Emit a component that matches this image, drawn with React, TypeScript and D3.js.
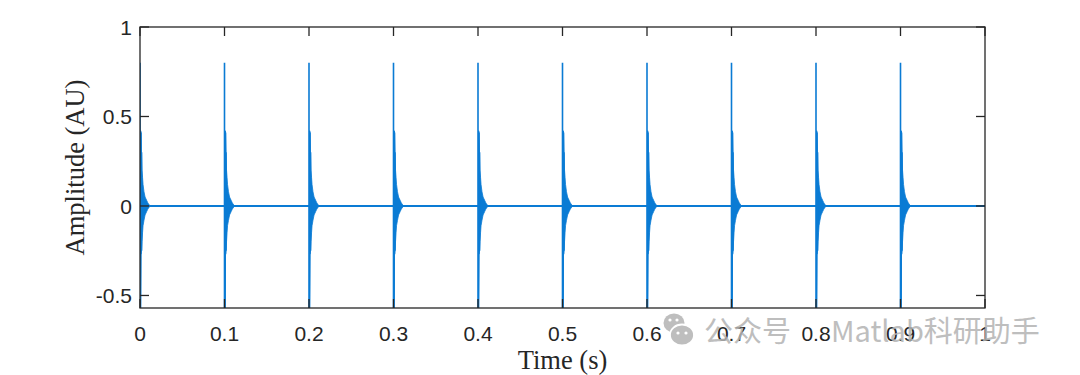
import { useEffect, useRef } from 'react';
import * as d3 from 'd3';

// pulse train: one decaying burst every 0.1 s
const pulseTimes = [0, 0.1, 0.2, 0.3, 0.4, 0.5, 0.6, 0.7, 0.8, 0.9];
// burst envelope (offset after each pulse, in ms)
const envOffsetsMs = [0, 0.6, 1.2, 1.8, 2.4, 3.0, 3.6, 4.7, 6.0, 7.0, 8.0, 9.0, 10.0, 11.0, 12.0];
const envUpper = [0.8, 0.42, 0.41, 0.3, 0.2, 0.16, 0.12, 0.08, 0.05, 0.04, 0.03, 0.02, 0.012, 0.006, 0];
const envLower = [-0.95, -0.6, -0.27, -0.25, -0.2, -0.15, -0.11, -0.08, -0.05, -0.04, -0.03, -0.02, -0.012, -0.006, 0];

const xTicks = [0, 0.1, 0.2, 0.3, 0.4, 0.5, 0.6, 0.7, 0.8, 0.9, 1];
const yTicks = [-0.5, 0, 0.5, 1];
const xDomain = [0, 1];
const yDomain = [-0.57, 1];

const W = 1080;
const H = 375;
const margin = { left: 140, right: 95, top: 27, bottom: 67 };
const lineColor = '#0a7bd4';
const axisColor = '#262626';
const wmColor = '#b3b3b3';

export default function App() {
  const svgRef = useRef<SVGSVGElement>(null);

  useEffect(() => {
    if (!svgRef.current) {
      return;
    }
    document.body.style.margin = '0';

    const svg = d3.select(svgRef.current);
    svg.selectAll('*').remove();

    const x0 = margin.left;
    const x1 = W - margin.right;
    const y0 = margin.top;
    const y1 = H - margin.bottom;

    const x = d3.scaleLinear().domain(xDomain).range([x0, x1]);
    const y = d3.scaleLinear().domain(yDomain).range([y1, y0]);

    svg
      .append('defs')
      .append('clipPath')
      .attr('id', 'plot-clip')
      .append('rect')
      .attr('x', x0)
      .attr('y', y0)
      .attr('width', x1 - x0)
      .attr('height', y1 - y0);

    const plot = svg.append('g').attr('clip-path', 'url(#plot-clip)');

    type Pt = [number, number];
    const line = d3
      .line<Pt>()
      .x((d) => x(d[0]))
      .y((d) => y(d[1]));

    // zero baseline
    plot
      .append('path')
      .attr('d', line([[xDomain[0], 0], [xDomain[1], 0]]))
      .attr('fill', 'none')
      .attr('stroke', lineColor)
      .attr('stroke-width', 2);

    type EnvPt = { t: number; hi: number; lo: number };
    const area = d3
      .area<EnvPt>()
      .x((d) => x(d.t))
      .y0((d) => y(d.lo))
      .y1((d) => y(d.hi));

    pulseTimes.forEach((t0) => {
      const env: EnvPt[] = envOffsetsMs.map((ms, i) => ({
        t: t0 + ms / 1000,
        hi: envUpper[i],
        lo: envLower[i],
      }));
      // filled burst (the oscillation is denser than a pixel)
      plot
        .append('path')
        .attr('d', area(env.slice(1)))
        .attr('fill', lineColor)
        .attr('stroke', lineColor)
        .attr('stroke-width', 0.8);
      // initial spike up then down
      const zig: Pt[] = [];
      env.slice(0, 4).forEach((d) => {
        zig.push([d.t, d.hi]);
        zig.push([d.t, d.lo]);
      });
      plot
        .append('path')
        .attr('d', line(zig))
        .attr('fill', 'none')
        .attr('stroke', lineColor)
        .attr('stroke-width', 1.6);
    });

    // axes box
    const ax = svg.append('g').attr('stroke', axisColor).attr('stroke-width', 1.3).attr('fill', 'none');
    ax.append('rect')
      .attr('x', x0)
      .attr('y', y0)
      .attr('width', x1 - x0)
      .attr('height', y1 - y0);

    const tickLen = 9;
    xTicks.forEach((v) => {
      ax.append('line').attr('x1', x(v)).attr('x2', x(v)).attr('y1', y1).attr('y2', y1 - tickLen);
      ax.append('line').attr('x1', x(v)).attr('x2', x(v)).attr('y1', y0).attr('y2', y0 + tickLen);
    });
    yTicks.forEach((v) => {
      ax.append('line').attr('x1', x0).attr('x2', x0 + tickLen).attr('y1', y(v)).attr('y2', y(v));
      ax.append('line').attr('x1', x1).attr('x2', x1 - tickLen).attr('y1', y(v)).attr('y2', y(v));
    });

    const labels = svg
      .append('g')
      .attr('fill', axisColor)
      .style('font-family', '"Liberation Sans", Arial, sans-serif')
      .style('font-size', '21px');

    labels
      .selectAll('text.xt')
      .data(xTicks)
      .enter()
      .append('text')
      .attr('class', 'xt')
      .attr('x', (d) => x(d))
      .attr('y', y1 + 33)
      .attr('text-anchor', 'middle')
      .text((d) => String(d));

    labels
      .selectAll('text.yt')
      .data(yTicks)
      .enter()
      .append('text')
      .attr('class', 'yt')
      .attr('x', x0 - 8)
      .attr('y', (d) => y(d))
      .attr('dy', '0.36em')
      .attr('text-anchor', 'end')
      .text((d) => String(d));

    const titles = svg
      .append('g')
      .attr('fill', axisColor)
      .style('font-family', '"Liberation Serif", "Times New Roman", serif')
      .style('font-size', '26.5px');

    titles
      .append('text')
      .attr('x', (x0 + x1) / 2)
      .attr('y', 369)
      .attr('text-anchor', 'middle')
      .text('Time (s)');

    titles
      .append('text')
      .attr('transform', `translate(84,${(y0 + y1) / 2}) rotate(-90)`)
      .attr('text-anchor', 'middle')
      .text('Amplitude (AU)');

    // watermark
    const wm = svg.append('g').attr('opacity', 0.85);
    wm.append('ellipse').attr('cx', 674).attr('cy', 323).attr('rx', 10.5).attr('ry', 9.5).attr('fill', wmColor);
    wm.append('ellipse')
      .attr('cx', 682)
      .attr('cy', 335)
      .attr('rx', 12)
      .attr('ry', 10.5)
      .attr('fill', wmColor)
      .attr('stroke', 'white')
      .attr('stroke-width', 1.8);
    [
      [670, 320],
      [677, 320],
      [678, 333],
      [686, 333],
    ].forEach(([cx, cy]) => {
      wm.append('circle').attr('cx', cx).attr('cy', cy).attr('r', 1.6).attr('fill', 'white');
    });
    const wmText = wm
      .append('g')
      .attr('fill', wmColor)
      .style('font-family', '"Noto Sans CJK SC", "Noto Sans", sans-serif')
      .style('font-size', '29px');
    wmText.append('text').attr('x', 704).attr('y', 342).text('公众号');
    wmText.append('text').attr('x', 831).attr('y', 342).text('Matlab科研助手');
  }, []);

  return <svg ref={svgRef} width={W} height={H} style={{ display: 'block', background: 'white' }} />;
}
